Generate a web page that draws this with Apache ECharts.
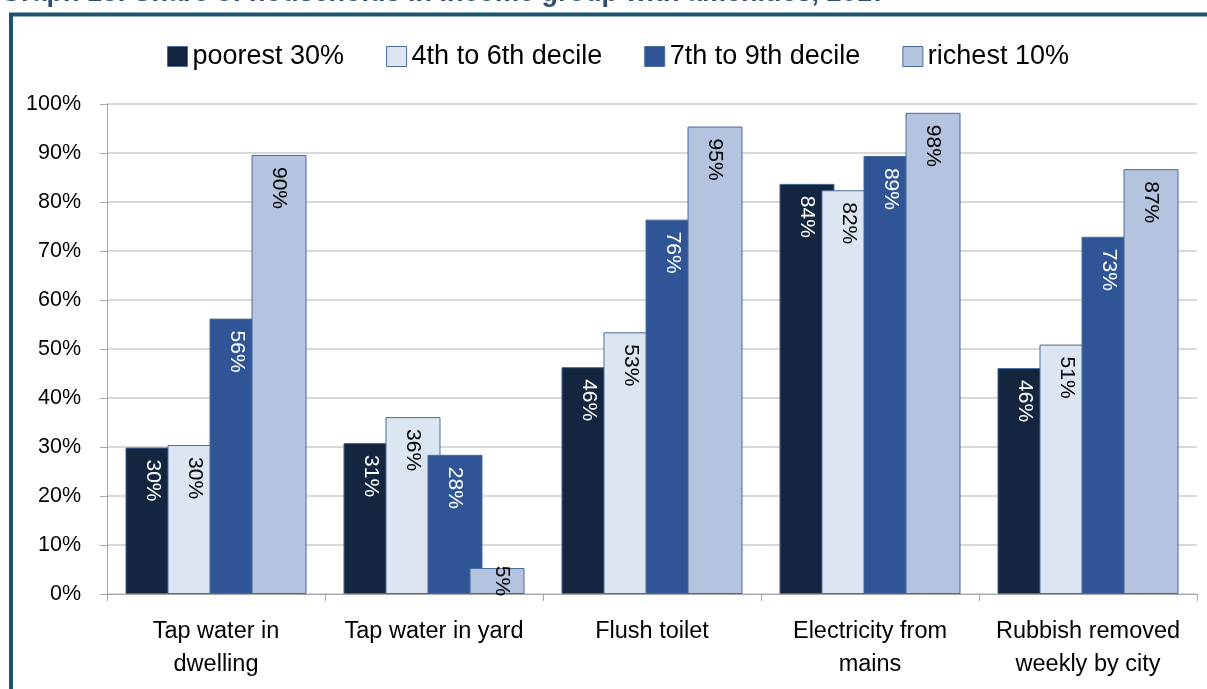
<!DOCTYPE html>
<html>
<head>
<meta charset="utf-8">
<script src="https://cdn.jsdelivr.net/npm/echarts@6/dist/echarts.min.js"></script>
<style>
html,body{margin:0;padding:0;background:#fff;}
#chart{width:1207px;height:689px;}
</style>
</head>
<body>
<div id="chart"></div>
<script>
const categories = ['Tap water in\ndwelling', 'Tap water in yard', 'Flush toilet', 'Electricity from\nmains', 'Rubbish removed\nweekly by city'];
const seriesNames = ['poorest 30%', '4th to 6th decile', '7th to 9th decile', 'richest 10%'];
const poorest30 = [29.9, 30.8, 46.3, 83.7, 46.1];
const decile4to6 = [30.4, 36.1, 53.4, 82.4, 50.9];
const decile7to9 = [56.2, 28.4, 76.4, 89.4, 72.9];
const richest10 = [89.6, 5.3, 95.4, 98.2, 86.7];
const yTicks = [0, 10, 20, 30, 40, 50, 60, 70, 80, 90, 100];
const titleText = 'Graph 13: Share of households in income group with amenities, 2017';

const colors = ['#13253F', '#DCE6F2', '#2F5597', '#B4C3DE'];
const labelColors = ['#FFFFFF', '#000000', '#FFFFFF', '#000000'];
const FONT = '"Liberation Sans", Arial, sans-serif';

const chart = echarts.init(document.getElementById('chart'), null, {renderer: 'canvas'});
const dataSets = [poorest30, decile4to6, decile7to9, richest10];

const series = dataSets.map((d, i) => ({
  name: seriesNames[i],
  type: 'bar',
  data: d.map(v => v < 10
    ? {value: v, label: {position: 'inside', align: 'center', verticalAlign: 'middle', offset: [0, -5]}}
    : v),
  barWidth: 55,
  barGap: '-23.6%',
  itemStyle: {color: colors[i], borderColor: '#4A6B9C', borderWidth: 1},
  label: {
    show: true,
    position: 'insideTop',
    distance: 12,
    rotate: -90,
    align: 'left',
    verticalAlign: 'middle',
    fontFamily: FONT,
    fontSize: 21,
    color: labelColors[i],
    formatter: p => Math.round(p.value) + '%'
  },
  emphasis: {disabled: true},
  animation: false
}));

chart.setOption({
  animation: false,
  backgroundColor: '#fff',
  graphic: [
    {type: 'text', left: 0, top: -20, style: {text: titleText, font: 'bold 27px ' + FONT, fill: '#2F4F73'}},
    {type: 'rect', shape: {x: 11, y: 14.5, width: 1300, height: 800}, style: {fill: 'none', stroke: '#1F5470', lineWidth: 4}}
  ],
  legend: {
    left: 162,
    top: 38,
    itemWidth: 20,
    itemHeight: 20,
    itemGap: 42,
    icon: 'rect',
    textStyle: {fontFamily: FONT, fontSize: 27, color: '#000'},
    data: seriesNames.map((n, i) => ({name: n, itemStyle: {color: colors[i], borderColor: '#4A6B9C', borderWidth: 1}}))
  },
  grid: {left: 107, right: 10, top: 104, bottom: 95, containLabel: false},
  xAxis: {
    type: 'category',
    data: categories,
    axisLine: {lineStyle: {color: '#A6A6A6', width: 1}},
    axisTick: {show: true, length: 7, lineStyle: {color: '#A6A6A6'}},
    axisLabel: {fontFamily: FONT, fontSize: 23.5, color: '#000', margin: 21, lineHeight: 33, interval: 0}
  },
  yAxis: {
    type: 'value',
    min: 0, max: 100, interval: 10,
    axisLine: {show: true, lineStyle: {color: '#A6A6A6', width: 1}},
    axisTick: {show: true, length: 7, lineStyle: {color: '#A6A6A6'}},
    splitLine: {lineStyle: {color: '#D9D9D9', width: 2}},
    axisLabel: {fontFamily: FONT, fontSize: 21.5, color: '#000', margin: 26, formatter: v => yTicks.includes(v) ? v + '%' : ''}
  },
  series: series
});
</script>
</body>
</html>
